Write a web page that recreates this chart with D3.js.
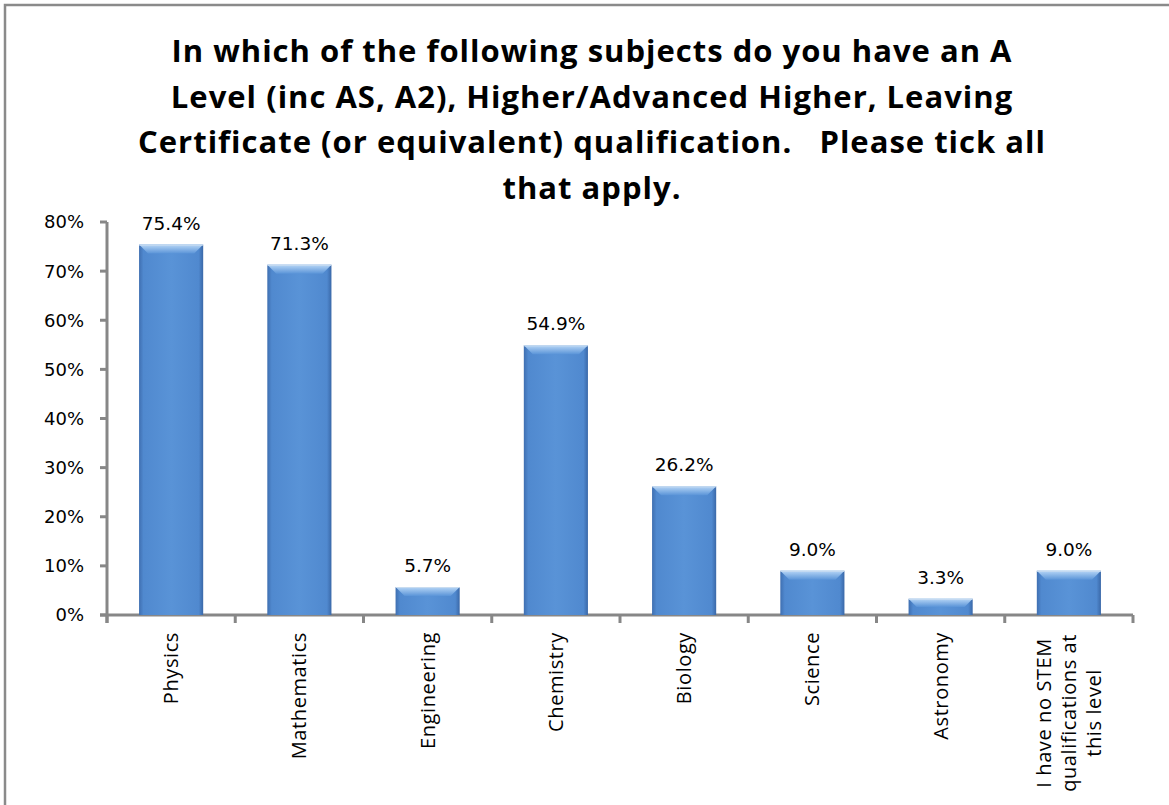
<!DOCTYPE html>
<html>
<head>
<meta charset="utf-8">
<script src="https://cdn.jsdelivr.net/npm/d3@7"></script>
<style>
  body { margin: 0; background: #fff; }
  svg { display: block; }
</style>
</head>
<body>
<div id="chart"></div>
<script>
const titleLines = [
  'In which of the following subjects do you have an A',
  'Level (inc AS, A2), Higher/Advanced Higher, Leaving',
  'Certificate (or equivalent) qualification.   Please tick all',
  'that apply.',
]
const categories = [
  'Physics',
  'Mathematics',
  'Engineering',
  'Chemistry',
  'Biology',
  'Science',
  'Astronomy',
  'I have no STEM|qualifications at|this level',
]
const values = [0.754, 0.713, 0.057, 0.549, 0.262, 0.09, 0.033, 0.09]
const yTicks = [0, 0.1, 0.2, 0.3, 0.4, 0.5, 0.6, 0.7, 0.8]

const width = 1169
const height = 805
const margin = { top: 222, right: 36, bottom: 190, left: 107 }

const svg = d3
  .select('#chart')
  .append('svg')
  .attr('width', width)
  .attr('height', height)

// outer frame (only top and left edges show in the picture)
svg
  .append('rect')
  .attr('x', 5)
  .attr('y', 5)
  .attr('width', width + 20)
  .attr('height', height + 20)
  .attr('fill', 'none')
  .attr('stroke', '#8a8a8a')
  .attr('stroke-width', 2.5)

const defs = svg.append('defs')
const side = defs
  .append('linearGradient')
  .attr('id', 'barSide')
  .attr('x1', 0)
  .attr('x2', 1)
  .attr('y1', 0)
  .attr('y2', 0)
side.append('stop').attr('offset', '0%').attr('stop-color', '#3f6fb1')
side.append('stop').attr('offset', '7%').attr('stop-color', '#5089cf')
side.append('stop').attr('offset', '50%').attr('stop-color', '#5993d7')
side.append('stop').attr('offset', '93%').attr('stop-color', '#5089cf')
side.append('stop').attr('offset', '100%').attr('stop-color', '#3a68a8')

const bevel = defs
  .append('linearGradient')
  .attr('id', 'barTop')
  .attr('x1', 0)
  .attr('x2', 0)
  .attr('y1', 0)
  .attr('y2', 1)
bevel.append('stop').attr('offset', '0%').attr('stop-color', '#b7d6f6')
bevel.append('stop').attr('offset', '100%').attr('stop-color', '#5a94d8')

const x = d3
  .scaleBand()
  .domain(categories)
  .range([margin.left, width - margin.right])
  .paddingInner(0.5)
  .paddingOuter(0.25)

const y = d3
  .scaleLinear()
  .domain([0, 0.8])
  .range([height - margin.bottom, margin.top])

const y0 = y(0)
const step = x.step()
const axisColor = '#878787'

// title
const title = svg
  .append('text')
  .attr('text-anchor', 'middle')
  .attr('font-family', '"Open Sans", Lato, sans-serif')
  .attr('font-weight', 'bold')
  .attr('font-size', 31)
  .attr('letter-spacing', 1)
  .attr('fill', '#000')
  .style('white-space', 'pre')
titleLines.forEach((t, i) => {
  title
    .append('tspan')
    .attr('x', 592)
    .attr('y', 62 + i * 45.5)
    .text(t)
})

// y axis
const yAxis = svg.append('g')
yAxis
  .append('line')
  .attr('x1', margin.left)
  .attr('x2', margin.left)
  .attr('y1', y(0.8))
  .attr('y2', y0 + 8)
  .attr('stroke', axisColor)
  .attr('stroke-width', 3)
yAxis
  .selectAll('line.tick')
  .data(yTicks)
  .join('line')
  .attr('class', 'tick')
  .attr('x1', margin.left - 7)
  .attr('x2', margin.left)
  .attr('y1', d => y(d))
  .attr('y2', d => y(d))
  .attr('stroke', axisColor)
  .attr('stroke-width', 3)
yAxis
  .selectAll('text')
  .data(yTicks)
  .join('text')
  .attr('x', margin.left - 23)
  .attr('y', d => y(d))
  .attr('dy', '0.36em')
  .attr('text-anchor', 'end')
  .attr('font-family', '"DejaVu Sans", Verdana, sans-serif')
  .attr('font-size', 18)
  .attr('fill', '#000')
  .text(d3.format('.0%'))

// x axis
const xAxis = svg.append('g')
xAxis
  .append('line')
  .attr('x1', margin.left - 7)
  .attr('x2', x.range()[1])
  .attr('y1', y0)
  .attr('y2', y0)
  .attr('stroke', axisColor)
  .attr('stroke-width', 3)
xAxis
  .selectAll('line.tick')
  .data(d3.range(categories.length + 1))
  .join('line')
  .attr('class', 'tick')
  .attr('x1', i => margin.left + i * step)
  .attr('x2', i => margin.left + i * step)
  .attr('y1', y0)
  .attr('y2', y0 + 8)
  .attr('stroke', axisColor)
  .attr('stroke-width', 3)

// bars
const bars = svg
  .selectAll('g.bar')
  .data(categories.map((c, i) => ({ c, v: values[i] })))
  .join('g')
  .attr('class', 'bar')

bars
  .append('rect')
  .attr('x', d => x(d.c))
  .attr('y', d => y(d.v))
  .attr('width', x.bandwidth())
  .attr('height', d => y0 - y(d.v))
  .attr('fill', 'url(#barSide)')

bars
  .append('path')
  .attr('d', d => {
    const x0 = x(d.c)
    const x1 = x0 + x.bandwidth()
    const top = y(d.v)
    const h = Math.min(9, (y0 - top) / 2)
    return `M${x0},${top}L${x1},${top}L${x1 - h},${top + h}L${x0 + h},${top + h}Z`
  })
  .attr('fill', 'url(#barTop)')

bars
  .append('line')
  .attr('x1', d => x(d.c))
  .attr('x2', d => x(d.c) + x.bandwidth())
  .attr('y1', d => y(d.v) + 0.5)
  .attr('y2', d => y(d.v) + 0.5)
  .attr('stroke', '#c9dcf0')
  .attr('stroke-width', 1)

// data labels
bars
  .append('text')
  .attr('x', d => x(d.c) + x.bandwidth() / 2)
  .attr('y', d => y(d.v) - 15)
  .attr('text-anchor', 'middle')
  .attr('font-family', '"DejaVu Sans", Verdana, sans-serif')
  .attr('font-size', 18.5)
  .attr('fill', '#000')
  .text(d => d3.format('.1%')(d.v))

// category labels, rotated
const catLabels = svg
  .selectAll('text.cat')
  .data(categories)
  .join('text')
  .attr('class', 'cat')
  .attr(
    'transform',
    d => `translate(${x(d) + x.bandwidth() / 2},${y0 + 17}) rotate(-90)`,
  )
  .attr('font-family', '"Open Sans", sans-serif')
  .attr('font-size', 20)
  .attr('letter-spacing', 0.6)
  .attr('fill', '#000')

catLabels.each(function(d) {
  const lines = d.split('|')
  const sel = d3.select(this)
  if (lines.length === 1) {
    sel
      .attr('text-anchor', 'end')
      .append('tspan')
      .attr('x', 0)
      .attr('y', 0)
      .attr('dy', '0.35em')
      .text(d)
  } else {
    // multi-line label: lines centred on each other, block hangs from the axis
    sel.attr('text-anchor', 'middle')
    const tmp = sel.append('tspan').text(lines[1])
    const w = d3.max(lines, l => {
      tmp.text(l)
      return tmp.node().getComputedTextLength()
    })
    tmp.remove()
    lines.forEach((l, i) => {
      sel
        .append('tspan')
        .attr('x', -w / 2 - 2)
        .attr('y', (i - (lines.length - 1) / 2) * 25)
        .attr('dy', '0.35em')
        .text(l)
    })
  }
})
</script>
</body>
</html>
